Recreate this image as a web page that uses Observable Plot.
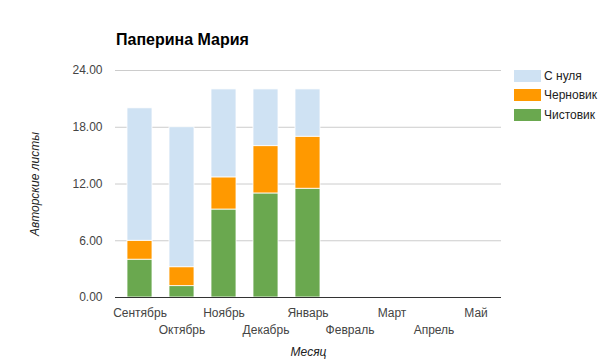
<!DOCTYPE html>
<html><head><meta charset="utf-8">
<script src="https://cdn.jsdelivr.net/npm/d3@7"></script>
<script src="https://cdn.jsdelivr.net/npm/@observablehq/plot@0.6"></script>
<style>
body{margin:0;background:#fff;font-family:Arial,"Liberation Sans",sans-serif;}
#wrap{position:relative;width:605px;height:362px;}
#chart svg{display:block;}
#title{position:absolute;left:116px;top:31px;font-size:16px;font-weight:bold;color:#000;}
#legend{position:absolute;left:514px;top:66px;font-size:12px;color:#222;}
.item{display:flex;align-items:center;height:19.5px;}
.sw{width:27px;height:12px;margin-right:3px;}
</style></head><body>
<div id="wrap"><div id="chart"></div><div id="title">Паперина Мария</div><div id="legend"></div></div>
<script>
const months = ["Сентябрь","Октябрь","Ноябрь","Декабрь","Январь","Февраль","Март","Апрель","Май"];
const seriesNames = ["Чистовик","Черновик","С нуля"];
const seriesColors = ["#6aa84f","#ff9900","#cfe2f3"];
const chistovik = [4.0, 1.2, 9.3, 11.0, 11.5];
const chernovik = [2.0, 2.0, 3.4, 5.0, 5.5];
const snulya = [14.0, 14.8, 9.3, 6.0, 5.0];
const yTicks = [0, 6, 12, 18, 24];
const titleText = "Паперина Мария";
const yLabel = "Авторские листы";
const xLabel = "Месяц";

const rows = [];
[chistovik, chernovik, snulya].forEach((vals, i) =>
  vals.forEach((v, j) => rows.push({month: months[j], series: seriesNames[i], value: v})));

const plot = Plot.plot({
  width: 605, height: 362,
  marginLeft: 115, marginRight: 104, marginTop: 70, marginBottom: 65,
  style: {fontFamily: "Arial, 'Liberation Sans', sans-serif", fontSize: "12px", color: "#444", background: "white"},
  x: {domain: months, paddingInner: 0.4, paddingOuter: 0.2, label: null},
  y: {domain: [0, 24], label: null},
  color: {domain: seriesNames, range: seriesColors},
  marks: [
    Plot.gridY(yTicks, {stroke: "#ccc", strokeOpacity: 1}),
    Plot.axisY(yTicks, {tickSize: 0, tickPadding: 13, tickFormat: d => d.toFixed(2), fill: "#444", label: null}),
    Plot.barY(rows, {x: "month", y: "value", fill: "series", stroke: "white", strokeWidth: 0.8}),
    Plot.ruleY([0], {stroke: "#333"}),
    Plot.axisX(months.filter((d, i) => i % 2 === 0), {tickSize: 0, tickPadding: 11, fill: "#444", label: null}),
    Plot.axisX(months.filter((d, i) => i % 2 === 1), {tickSize: 0, tickPadding: 28, fill: "#444", label: null}),
    Plot.text([yLabel], {frameAnchor: "left", rotate: -90, dx: -80, textAnchor: "middle", lineAnchor: "middle", fontStyle: "italic", fill: "#222"}),
    Plot.text([xLabel], {frameAnchor: "bottom", dy: 55, textAnchor: "middle", lineAnchor: "middle", fontStyle: "italic", fill: "#222"})
  ]
});
document.getElementById("chart").appendChild(plot);
document.getElementById("title").textContent = titleText;

const legend = document.getElementById("legend");
seriesNames.map((n, i) => [n, seriesColors[i]]).reverse().forEach(([n, c]) => {
  const it = document.createElement("div");
  it.className = "item";
  const sw = document.createElement("div");
  sw.className = "sw";
  sw.style.background = c;
  const lb = document.createElement("span");
  lb.textContent = n;
  it.appendChild(sw); it.appendChild(lb);
  legend.appendChild(it);
});
</script>
</body></html>
